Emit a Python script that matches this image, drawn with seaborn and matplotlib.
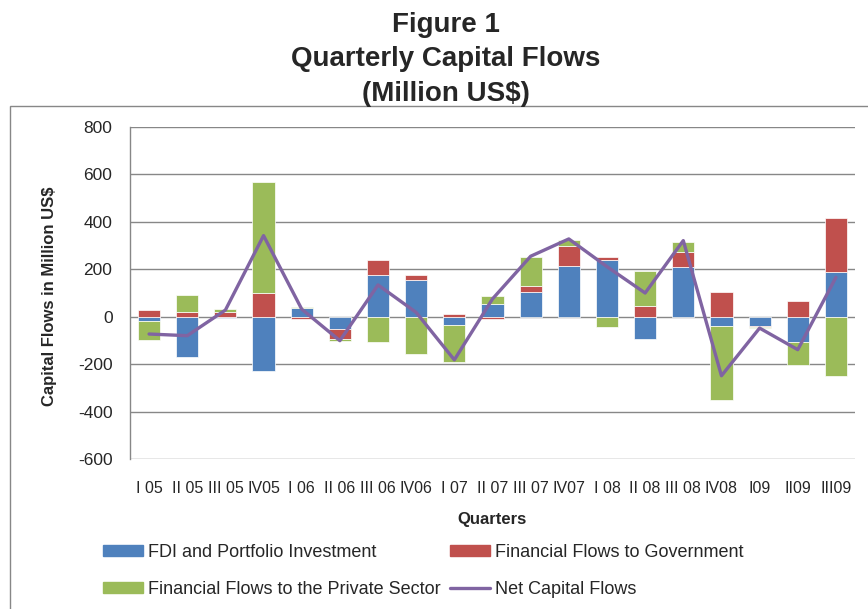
import numpy as np
import pandas as pd
import matplotlib
matplotlib.use("Agg")
import matplotlib.pyplot as plt
from matplotlib.patches import Patch, Rectangle
from matplotlib.lines import Line2D
import seaborn as sns

# Dados (milhoes de US$)
quarters = ["I 05", "II 05", "III 05", "IV05", "I 06", "II 06", "III 06", "IV06",
            "I 07", "II 07", "III 07", "IV07", "I 08", "II 08", "III 08", "IV08",
            "I09", "II09", "III09"]
fdi = [-20, -169, -5, -228, 35, -52, 176, 156, -35, 54, 106, 214, 239, -94, 208, -41, -38, -106, 190]
government = [28, 21, 20, 99, -10, -42, 63, 20, 10, -10, 25, 83, 14, 46, 63, 106, -5, 66, 225]
private = [-80, 70, 14, 471, 7, -7, -106, -158, -155, 32, 122, 27, -42, 148, 46, -310, -6, -97, -249]
net_flows = [-73, -80, 28, 342, 32, -101, 134, 18, -182, 75, 255, 328, 211, 100, 321, -249, -48, -139, 166]

series_names = ["FDI and Portfolio Investment", "Financial Flows to Government",
                "Financial Flows to the Private Sector"]
colors = ["#4F81BD", "#C0504D", "#9BBB59"]
net_color = "#8064A2"
grid_color = "#878787"

df = pd.DataFrame({"quarter": quarters, series_names[0]: fdi,
                   series_names[1]: government, series_names[2]: private,
                   "net": net_flows})

sns.set_style("white")
plt.rcParams["font.family"] = ["Liberation Sans", "DejaVu Sans"]
plt.rcParams["axes.unicode_minus"] = False

fig = plt.figure(figsize=(8.68, 6.09), dpi=100)
ax = fig.add_axes([130 / 868, 1 - 459 / 609, 725 / 868, 332 / 609])

# empilhamento estilo Excel: positivos e negativos separados
pos_base = np.zeros(len(quarters))
neg_base = np.zeros(len(quarters))
for name, c in zip(series_names, colors):
    vals = df[name].to_numpy(dtype=float)
    bottoms = np.where(vals >= 0, pos_base, neg_base)
    sns.barplot(data=df, x="quarter", y=name, order=quarters, bottom=bottoms,
                color=c, saturation=1, width=0.58, edgecolor="white",
                linewidth=0.5, ax=ax)
    pos_base = pos_base + np.where(vals >= 0, vals, 0)
    neg_base = neg_base + np.where(vals < 0, vals, 0)

sns.pointplot(data=df, x="quarter", y="net", order=quarters, color=net_color,
              marker="", linewidth=2.4, errorbar=None, ax=ax)

ax.set_ylim(-600, 800)
ax.set_yticks(range(-600, 801, 200))
ax.set_xlim(-0.5, len(quarters) - 0.5)
ax.yaxis.grid(True, color=grid_color, linewidth=1)
ax.set_axisbelow(True)
for s in ["top", "right", "bottom"]:
    ax.spines[s].set_visible(False)
ax.spines["left"].set_color(grid_color)
ax.spines["left"].set_linewidth(1)

ax.tick_params(axis="y", length=3.6, color=grid_color, width=1, pad=9, labelsize=12.5)
ax.tick_params(axis="x", length=0, pad=16, labelsize=11.5)

ax.set_xlabel("Quarters", fontsize=12, fontweight="bold")
ax.xaxis.set_label_coords(0.5, -0.16)
ax.set_ylabel("Capital Flows in Million US$", fontsize=12, fontweight="bold")
ax.yaxis.set_label_coords(-0.10, 0.49)

fig.text(446 / 868, 1 - 12 / 609, "Figure 1\nQuarterly Capital Flows\n(Million US$)",
         ha="center", va="top", fontsize=20, fontweight="bold", linespacing=1.42)

# moldura externa do grafico
fig.patches.append(Rectangle((10 / 868, -0.1), 1.2, 0.1 + 1 - 106 / 609,
                             transform=fig.transFigure, fill=False,
                             edgecolor=grid_color, linewidth=1))

handles = [Patch(color=colors[0], label=series_names[0]),
           Patch(color=colors[2], label=series_names[2]),
           Patch(color=colors[1], label=series_names[1]),
           Line2D([0], [0], color=net_color, linewidth=2.4, label="Net Capital Flows")]
fig.legend(handles=handles, ncol=2, loc="center left",
           bbox_to_anchor=(94 / 868, 1 - 571 / 609), frameon=False,
           fontsize=13.0, borderpad=0, handlelength=2.2, handleheight=0.55,
           handletextpad=0.3, columnspacing=0.5, labelspacing=1.1)

fig.savefig("out.png", dpi=100)
